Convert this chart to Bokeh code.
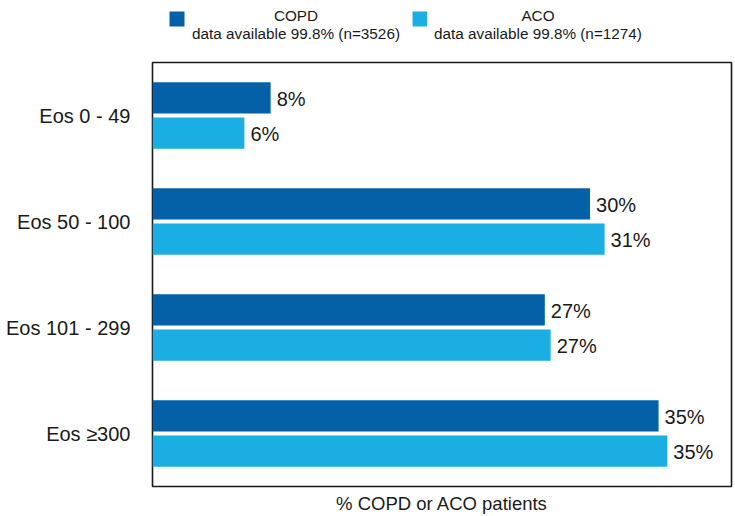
from bokeh.plotting import figure
from bokeh.layouts import column
from bokeh.models import ColumnDataSource, FactorRange, Range1d, FixedTicker
from bokeh.transform import dodge
from bokeh.core.properties import value
from bokeh.embed import file_html
from bokeh.resources import INLINE

# ---- data ----
categories = ["Eos 0 - 49", "Eos 50 - 100", "Eos 101 - 299", "Eos \u2265300"]
copd = [8.1, 30.0, 26.9, 34.7]
aco = [6.3, 31.0, 27.3, 35.3]
series_names = ["COPD", "ACO"]
series_notes = ["data available 99.8% (n=3526)", "data available 99.8% (n=1274)"]
x_title = "% COPD or ACO patients"

COPD_COLOR = "#0461A8"
ACO_COLOR = "#1AAEE3"
colors = [COPD_COLOR, ACO_COLOR]
FONT = "Liberation Sans"
TXT = "#1a1a1a"

src = ColumnDataSource(dict(
    cat=categories,
    copd=copd,
    aco=aco,
    copd_lbl=[f"{round(v)}%" for v in copd],
    aco_lbl=[f"{round(v)}%" for v in aco],
))

xr = Range1d(0, 39.7)
W = 735
BL, BR = 152, 4

# ---- legend strip (shares the x scale of the chart) ----
leg = figure(width=W, height=56, x_range=xr, y_range=Range1d(56, 0),
             toolbar_location=None, output_backend="svg",
             min_border_left=BL, min_border_right=BR, min_border_top=0, min_border_bottom=0,
             x_axis_type=None, y_axis_type=None)
leg.outline_line_color = None
leg.xgrid.visible = False
leg.ygrid.visible = False
leg_sq_left = [1.166, 17.83]
leg_sq_right = [2.195, 18.83]
leg_txt_x = [9.84, 26.43]
leg.quad(left=leg_sq_left, right=leg_sq_right, top=[11, 11], bottom=[26, 26],
         fill_color=colors, line_color=None)
leg.text(x=leg_txt_x, y=[15, 15], text=series_names, text_align="center",
         text_baseline="alphabetic", text_font=value(FONT), text_font_size=value("15.3px"),
         text_color=TXT)
leg.text(x=leg_txt_x, y=[33, 33], text=series_notes, text_align="center",
         text_baseline="alphabetic", text_font=value(FONT), text_font_size=value("15.3px"),
         text_color=TXT)

# ---- main chart ----
p = figure(width=W, height=460, y_range=FactorRange(*reversed(categories)),
           x_range=xr, toolbar_location=None, output_backend="svg",
           min_border_left=BL, min_border_right=BR, min_border_top=6, min_border_bottom=29)
p.xgrid.visible = False
p.ygrid.visible = False
p.outline_line_color = "#1a1a1a"
p.outline_line_width = 1.6

off = 0.166
bh = 0.296
p.hbar(y=dodge("cat", off, range=p.y_range), left=0, right="copd", height=bh,
       fill_color=COPD_COLOR, line_color=None, source=src)
p.hbar(y=dodge("cat", -off, range=p.y_range), left=0, right="aco", height=bh,
       fill_color=ACO_COLOR, line_color=None, source=src)
p.text(x="copd", y=dodge("cat", off, range=p.y_range), text="copd_lbl", x_offset=6, y_offset=1,
       text_baseline="middle", text_align="left", text_font=value(FONT),
       text_font_size=value("20px"), text_color=TXT, source=src)
p.text(x="aco", y=dodge("cat", -off, range=p.y_range), text="aco_lbl", x_offset=6, y_offset=1,
       text_baseline="middle", text_align="left", text_font=value(FONT),
       text_font_size=value("20px"), text_color=TXT, source=src)

ya = p.yaxis[0]
ya.axis_line_color = None
ya.major_tick_line_color = None
ya.minor_tick_line_color = None
ya.major_tick_out = 0
ya.major_label_standoff = 22
ya.major_label_text_font = FONT
ya.major_label_text_font_size = "20px"
ya.major_label_text_color = TXT

xa = p.xaxis[0]
xa.ticker = FixedTicker(ticks=[])
xa.axis_line_color = None
xa.major_tick_line_color = None
xa.minor_tick_line_color = None
xa.major_tick_out = 0
xa.major_label_text_font_size = "0px"
xa.axis_label = x_title
xa.axis_label_standoff = 6
xa.axis_label_text_font = FONT
xa.axis_label_text_font_style = "normal"
xa.axis_label_text_font_size = "18.5px"
xa.axis_label_text_color = TXT

layout = column(leg, p, spacing=0)
open("out.html", "w").write(file_html(layout, INLINE))
